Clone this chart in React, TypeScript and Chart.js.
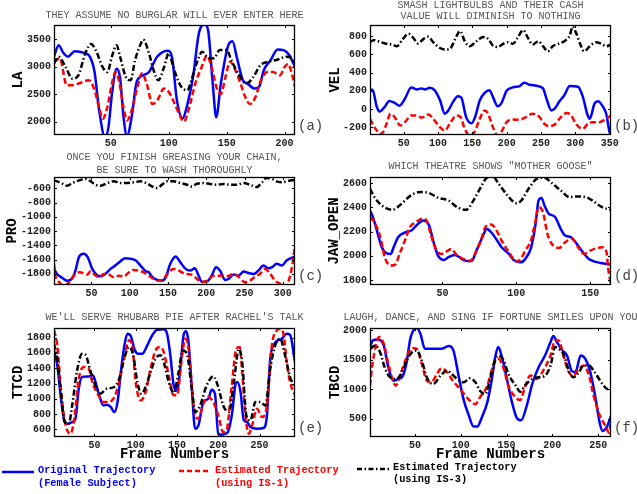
import React, { useEffect, useRef } from "react";
import { Chart, registerables } from "chart.js";

Chart.register(...registerables);

type Pt = [number, number];

// ---------- (a) LA ----------
const laTitle = ["THEY ASSUME NO BURGLAR WILL EVER ENTER HERE"];
const laXTicks = [50, 100, 150, 200];
const laYTicks = [2000, 2500, 3000, 3500];
const laOriginal: Pt[] = [[1,3180],[5,3390],[9,3250],[13,3180],[19,3280],[27,3250],[32,3180],[36,2900],[40,2200],[45,1720],[48,1900],[51,2500],[55,2960],[58,2800],[61,2080],[64,1740],[68,2080],[72,2690],[76,2820],[83,2900],[90,3180],[99,3290],[103,3150],[107,2400],[112,2060],[116,2300],[121,2810],[126,3600],[131,3770],[134,3660],[138,2690],[141,2080],[145,2690],[151,3360],[155,3460],[159,3150],[164,2750],[168,2690],[174,2600],[178,2630],[182,2930],[188,3120],[194,3310],[199,3300],[204,3210],[209,2990]];
const laIS1: Pt[] = [[1,3085],[4,3130],[6,3150],[12,2660],[17,2660],[22,2690],[31,2750],[35,2630],[40,2260],[43,2050],[47,2260],[51,2690],[54,2900],[57,2750],[61,2260],[64,2020],[68,2200],[73,2630],[77,2880],[81,2690],[86,2320],[90,2380],[96,2600],[100,2540],[104,2380],[109,2140],[113,2000],[117,2200],[123,2690],[129,3020],[133,3200],[137,2990],[142,2570],[145,2500],[149,2810],[153,3090],[157,2960],[162,2690],[166,2450],[170,2320],[175,2450],[179,2720],[185,2900],[190,2900],[196,2840],[200,2990],[203,3050],[207,2810],[209,2630]];
const laIS3: Pt[] = [[1,3055],[5,3180],[11,2990],[17,2780],[22,2840],[28,3240],[33,3410],[37,3300],[43,2990],[47,2900],[51,3180],[55,3390],[58,3180],[63,2810],[67,2750],[71,3120],[76,3420],[78,3490],[83,3240],[87,2930],[91,2750],[96,2990],[100,3240],[104,2990],[110,2660],[116,2570],[120,2780],[124,3055],[129,3270],[133,3180],[139,3150],[144,3300],[150,3300],[154,3120],[160,2870],[167,2690],[173,2810],[179,3020],[185,3085],[193,3120],[202,3180],[206,3150],[209,3020]];

// ---------- (b) VEL ----------
const velTitle = ["SMASH LIGHTBULBS AND THEIR CASH", "VALUE WILL DIMINISH TO NOTHING"];
const velXTicks = [50, 100, 150, 200, 250, 300, 350];
const velYTicks = [-200, 0, 200, 400, 600, 800];
const velOriginal: Pt[] = [[1,215],[5,207],[11,22],[15,-26],[23,30],[29,89],[37,67],[44,37],[52,115],[61,237],[69,215],[76,226],[81,215],[88,233],[95,207],[103,96],[110,-52],[115,-15],[122,78],[129,141],[134,126],[141,-89],[149,-155],[154,-89],[161,96],[168,178],[175,207],[180,133],[187,30],[192,59],[200,200],[209,237],[219,252],[226,289],[233,267],[243,256],[253,226],[258,115],[265,-15],[270,4],[277,85],[284,152],[292,252],[304,244],[311,133],[318,-70],[321,-107],[328,59],[333,85],[340,30],[345,-52],[350,-255],[352,-285]];
const velIS1: Pt[] = [[1,-107],[6,-181],[11,-237],[15,-274],[20,-255],[25,-163],[31,-52],[37,-89],[45,-181],[52,-144],[61,-70],[69,-70],[76,-96],[86,-59],[93,-107],[103,-200],[110,-237],[117,-163],[127,-70],[133,-89],[139,-218],[146,-292],[153,-255],[161,-107],[168,-15],[173,-52],[180,-200],[187,-292],[192,-255],[200,-144],[209,-115],[219,-118],[228,-89],[238,-52],[247,-81],[255,-163],[262,-189],[270,-170],[279,-89],[288,-44],[294,-70],[301,-163],[311,-218],[318,-163],[325,-144],[335,-144],[345,-107],[352,-70]];
const velIS3: Pt[] = [[1,733],[6,756],[16,737],[23,719],[33,707],[40,689],[49,770],[57,826],[64,781],[71,719],[79,770],[86,793],[93,733],[103,670],[110,652],[117,659],[127,800],[132,856],[139,744],[146,689],[156,744],[166,789],[173,770],[180,696],[187,681],[195,715],[202,733],[209,715],[216,781],[224,867],[231,781],[238,707],[246,744],[253,689],[260,633],[267,689],[275,715],[284,744],[292,807],[296,904],[301,837],[308,696],[313,633],[321,689],[330,733],[337,719],[345,689],[352,707]];

// ---------- (c) PRO ----------
const proTitle = ["ONCE YOU FINISH GREASING YOUR CHAIN,", "BE SURE TO WASH THOROUGHLY"];
const proXTicks = [50, 100, 150, 200, 250, 300];
const proYTicks = [-1800, -1600, -1400, -1200, -1000, -800, -600];
const proOriginal: Pt[] = [[1,-1730],[5,-1801],[12,-1858],[18,-1895],[25,-1862],[29,-1754],[34,-1555],[40,-1517],[45,-1565],[51,-1730],[58,-1825],[62,-1834],[68,-1801],[75,-1730],[81,-1683],[88,-1621],[94,-1579],[101,-1588],[108,-1612],[114,-1683],[121,-1763],[125,-1777],[129,-1839],[136,-1886],[142,-1896],[147,-1848],[153,-1659],[160,-1555],[166,-1635],[173,-1730],[179,-1754],[185,-1721],[190,-1825],[194,-1910],[201,-1905],[207,-1825],[213,-1706],[218,-1754],[225,-1886],[229,-1872],[236,-1810],[242,-1825],[249,-1768],[255,-1787],[262,-1801],[268,-1754],[275,-1683],[281,-1721],[286,-1706],[292,-1659],[299,-1683],[305,-1612],[312,-1574],[316,-1565]];
const proIS1: Pt[] = [[1,-1659],[3,-1825],[8,-1919],[14,-1966],[21,-1919],[27,-1825],[34,-1777],[40,-1791],[44,-1810],[49,-1763],[53,-1801],[60,-1848],[66,-1801],[73,-1810],[79,-1848],[86,-1825],[92,-1839],[99,-1777],[105,-1744],[112,-1754],[118,-1777],[125,-1825],[131,-1872],[138,-1896],[144,-1872],[151,-1777],[157,-1730],[164,-1754],[173,-1801],[181,-1810],[188,-1872],[194,-1919],[201,-1896],[210,-1825],[218,-1825],[227,-1834],[236,-1801],[242,-1839],[251,-1919],[257,-1896],[264,-1839],[270,-1801],[277,-1730],[283,-1791],[290,-1896],[297,-1943],[303,-1990],[307,-1919],[312,-1706],[316,-1399]];
const proIS3: Pt[] = [[1,-487],[5,-501],[12,-534],[18,-562],[25,-524],[34,-487],[42,-468],[49,-501],[55,-548],[62,-562],[71,-524],[79,-501],[88,-524],[97,-524],[105,-515],[114,-501],[123,-534],[129,-572],[136,-595],[142,-548],[149,-501],[157,-501],[166,-524],[175,-548],[181,-572],[188,-534],[197,-524],[205,-539],[214,-548],[223,-539],[231,-548],[240,-548],[249,-524],[257,-548],[266,-581],[273,-515],[279,-453],[286,-468],[292,-501],[299,-515],[305,-501],[312,-487],[316,-487]];

// ---------- (d) JAW_OPEN ----------
const jawTitle = ["WHICH THEATRE SHOWS \"MOTHER GOOSE\""];
const jawXTicks = [50, 100, 150];
const jawYTicks = [1800, 2000, 2200, 2400, 2600];
const jawOriginal: Pt[] = [[1,2374],[3,2319],[6,2194],[9,2070],[12,2021],[15,2015],[17,2070],[20,2153],[25,2194],[29,2208],[33,2258],[37,2291],[41,2250],[44,2112],[47,2001],[51,1966],[54,1988],[58,2007],[61,1993],[64,1966],[68,1955],[70,1960],[73,2043],[77,2153],[80,2222],[83,2194],[87,2126],[90,2070],[95,2015],[98,1966],[103,1946],[106,1974],[110,2070],[113,2263],[115,2457],[117,2476],[119,2415],[122,2346],[126,2324],[130,2222],[133,2167],[137,2153],[140,2112],[145,2029],[149,1974],[153,1952],[157,1941],[161,1932],[164,1927]];
const jawIS1: Pt[] = [[1,2319],[4,2277],[8,2153],[11,1988],[15,1919],[18,1927],[21,2015],[25,2139],[28,2236],[32,2277],[36,2305],[39,2297],[42,2181],[45,2070],[49,2015],[52,2029],[56,2057],[59,2015],[64,1974],[69,1960],[72,2015],[76,2126],[79,2236],[83,2258],[86,2222],[90,2126],[95,2029],[100,1955],[103,1974],[106,2043],[110,2131],[113,2291],[115,2401],[118,2360],[121,2181],[124,2098],[129,2065],[133,2112],[138,2139],[141,2084],[146,2015],[150,2043],[155,2065],[158,2070],[161,2029],[162,1905],[164,1759]];
const jawIS3: Pt[] = [[1,2553],[4,2484],[9,2415],[16,2379],[21,2415],[28,2492],[35,2526],[41,2517],[47,2479],[54,2457],[60,2401],[66,2379],[71,2457],[76,2567],[80,2644],[84,2655],[88,2594],[94,2498],[100,2434],[103,2451],[109,2567],[114,2636],[119,2644],[124,2600],[130,2539],[136,2484],[141,2490],[147,2484],[153,2443],[158,2401],[164,2379]];

// ---------- (e) TTCD ----------
const ttcdTitle = ["WE'LL SERVE RHUBARB PIE AFTER RACHEL'S TALK"];
const ttcdXTicks = [50, 100, 150, 200, 250];
const ttcdYTicks = [600, 800, 1000, 1200, 1400, 1600, 1800];
const ttcdOriginal: Pt[] = [[1,1634],[5,1438],[9,1045],[13,739],[17,673],[23,695],[27,739],[31,1132],[35,1285],[43,1293],[48,1307],[53,1154],[57,1001],[61,913],[65,922],[70,892],[74,826],[78,957],[82,1350],[86,1678],[90,1852],[94,1822],[99,1634],[103,1590],[108,1590],[114,1700],[120,1831],[126,1905],[134,1909],[138,1852],[142,1569],[146,1176],[150,1110],[154,1394],[158,1831],[161,1883],[164,1743],[168,1132],[172,608],[176,652],[182,957],[188,1001],[192,1119],[196,1066],[200,542],[204,530],[208,540],[212,573],[217,826],[221,1197],[223,1219],[227,1088],[231,717],[235,695],[239,630],[247,608],[255,617],[259,783],[263,1525],[269,1734],[277,1787],[283,1852],[287,1839],[293,1481]];
const ttcdIS1: Pt[] = [[1,1896],[5,1700],[9,1176],[13,783],[17,586],[21,542],[25,695],[31,1263],[37,1416],[43,1394],[48,1197],[55,1045],[61,957],[67,957],[73,1001],[79,1176],[86,1525],[92,1765],[96,1678],[100,1219],[106,979],[112,1088],[118,1394],[124,1634],[129,1678],[134,1612],[140,1307],[146,1045],[150,1045],[156,1547],[160,1787],[164,1656],[168,1176],[172,783],[176,739],[182,935],[188,1023],[194,957],[200,783],[206,564],[210,586],[216,1132],[222,1656],[226,1678],[229,1350],[233,783],[237,542],[241,652],[247,870],[253,761],[259,913],[265,1700],[271,1896],[275,1918],[279,1852],[283,1481],[287,1219],[293,1045]];
const ttcdIS3: Pt[] = [[1,1721],[5,1525],[9,1132],[14,695],[19,673],[23,913],[29,1372],[35,1590],[39,1577],[45,1372],[51,1176],[57,1066],[65,1132],[74,1154],[80,1263],[86,1525],[92,1678],[97,1569],[102,1219],[107,1066],[112,1154],[118,1350],[124,1525],[130,1569],[134,1481],[140,1219],[146,1079],[152,1350],[157,1634],[162,1590],[168,1132],[172,826],[178,913],[186,1176],[194,1293],[200,1154],[206,913],[213,826],[219,1219],[225,1656],[229,1481],[234,783],[239,717],[245,957],[251,957],[257,913],[263,1394],[269,1700],[275,1787],[281,1569],[287,1285],[293,1154]];

// ---------- (f) TBCD ----------
const tbcdTitle = ["LAUGH, DANCE, AND SING IF FORTUNE SMILES UPON YOU"];
const tbcdXTicks = [50, 100, 150, 200, 250];
const tbcdYTicks = [500, 1000, 1500, 2000];
const tbcdOriginal: Pt[] = [[1,1715],[4,1829],[10,1846],[16,1743],[21,1373],[27,1144],[32,1173],[37,1230],[41,1458],[45,1857],[52,2040],[56,1943],[61,1686],[70,1686],[79,1686],[87,1732],[92,1658],[98,1201],[103,831],[109,545],[114,363],[118,363],[123,517],[129,774],[134,1173],[138,1572],[141,1715],[145,1544],[150,1201],[156,774],[161,517],[166,471],[172,717],[178,1087],[185,1373],[192,1572],[198,1800],[201,1903],[205,1800],[211,1658],[216,1572],[221,1315],[225,1287],[231,1572],[236,1515],[241,1315],[247,859],[252,403],[255,289],[260,374],[264,545]];
const tbcdIS1: Pt[] = [[1,1059],[4,1458],[8,1772],[11,1886],[16,1772],[21,1430],[26,1144],[29,1059],[35,1287],[41,1544],[47,1698],[52,1686],[58,1401],[63,1144],[68,1116],[74,1258],[79,1355],[85,1287],[90,1173],[96,1059],[103,933],[110,802],[116,745],[121,859],[129,1059],[136,1430],[141,1515],[147,1344],[152,1059],[160,859],[165,813],[170,1030],[176,1230],[183,1173],[190,1315],[198,1572],[203,1829],[207,1829],[212,1572],[218,1287],[223,1230],[229,1344],[234,1401],[240,1230],[245,888],[252,545],[258,374],[262,260],[264,460]];
const tbcdIS3: Pt[] = [[1,1686],[7,1743],[12,1629],[17,1373],[23,1201],[30,1173],[36,1287],[41,1487],[47,1629],[52,1658],[58,1458],[63,1201],[70,1087],[78,1230],[85,1315],[90,1258],[96,1173],[103,1116],[110,1184],[116,1116],[121,973],[127,916],[132,1173],[138,1515],[141,1572],[147,1487],[152,1258],[160,1059],[165,956],[170,1059],[178,1173],[185,1201],[192,1230],[198,1401],[203,1715],[207,1686],[212,1601],[218,1315],[223,1201],[229,1287],[234,1401],[240,1401],[245,1315],[251,1173],[256,1059],[260,1002],[264,1030]];

const legendLabels = [
  ["Original Trajectory", "(Female Subject)"],
  ["Estimated Trajectory", "(using IS-1)"],
  ["Estimated Trajectory", "(using IS-3)"],
];

// ---------- layout ----------
const MONO = "'Liberation Mono', 'Courier New', monospace";
const COLS = [
  { canvasLeft: 0, canvasWidth: 330, plotLeft: 54, plotRight: 295 },
  { canvasLeft: 317, canvasWidth: 320, plotLeft: 370, plotRight: 611 },
];
const ROWS = [
  { top: 25, bottom: 135 },
  { top: 177, bottom: 285 },
  { top: 328, bottom: 437 },
];
const Y_AXIS_W = 40;
const X_AXIS_H = 20;
const TOP_SPACE = 30;
const BOTTOM_SPACE = 45;

interface Panel {
  key: string;
  col: number;
  row: number;
  xMin: number; xMax: number; yMin: number; yMax: number;
  xTicks: number[]; yTicks: number[];
  title: string[]; titleOffsets: number[];
  yTitle: string; yTitleOffset: number;
  label: string;
  xTitle?: string;
  orig: Pt[]; is1: Pt[]; is3: Pt[];
}

const PANELS: Panel[] = [
  { key: "a", col: 0, row: 0, xMin: 1, xMax: 209, yMin: 1756, yMax: 3756, xTicks: laXTicks, yTicks: laYTicks, title: laTitle, titleOffsets: [10], yTitle: "LA", yTitleOffset: 36, label: "(a)", orig: laOriginal, is1: laIS1, is3: laIS3 },
  { key: "b", col: 1, row: 0, xMin: 1, xMax: 352, yMin: -285, yMax: 922, xTicks: velXTicks, yTicks: velYTicks, title: velTitle, titleOffsets: [20, 8.5], yTitle: "VEL", yTitleOffset: 35, label: "(b)", orig: velOriginal, is1: velIS1, is3: velIS3 },
  { key: "c", col: 0, row: 1, xMin: 1, xMax: 316, yMin: -1956, yMax: -440, xTicks: proXTicks, yTicks: proYTicks, title: proTitle, titleOffsets: [20, 6.5], yTitle: "PRO", yTitleOffset: 42, label: "(c)", orig: proOriginal, is1: proIS1, is3: proIS3 },
  { key: "d", col: 1, row: 1, xMin: 1, xMax: 164, yMin: 1759, yMax: 2650, xTicks: jawXTicks, yTicks: jawYTicks, title: jawTitle, titleOffsets: [11], yTitle: "JAW_OPEN", yTitleOffset: 36, label: "(d)", orig: jawOriginal, is1: jawIS1, is3: jawIS3 },
  { key: "e", col: 0, row: 2, xMin: 1, xMax: 293, yMin: 500, yMax: 1927, xTicks: ttcdXTicks, yTicks: ttcdYTicks, title: ttcdTitle, titleOffsets: [10.5], yTitle: "TTCD", yTitleOffset: 36, label: "(e)", xTitle: "Frame Numbers", orig: ttcdOriginal, is1: ttcdIS1, is3: ttcdIS3 },
  { key: "f", col: 1, row: 2, xMin: 1, xMax: 264, yMin: 186, yMax: 2040, xTicks: tbcdXTicks, yTicks: tbcdYTicks, title: tbcdTitle, titleOffsets: [10.5], yTitle: "TBCD", yTitleOffset: 35, label: "(f)", xTitle: "Frame Numbers", orig: tbcdOriginal, is1: tbcdIS1, is3: tbcdIS3 },
];

function geometry(p: Panel) {
  const c = COLS[p.col];
  const r = ROWS[p.row];
  const left = c.canvasLeft;
  const top = r.top - TOP_SPACE;
  const width = c.canvasWidth;
  const height = r.bottom - r.top + TOP_SPACE + BOTTOM_SPACE;
  const pad = {
    left: c.plotLeft - c.canvasLeft - Y_AXIS_W,
    right: c.canvasLeft + c.canvasWidth - c.plotRight,
    top: TOP_SPACE,
    bottom: BOTTOM_SPACE - X_AXIS_H,
  };
  return { left, top, width, height, pad };
}

function decorPlugin(p: Panel) {
  return {
    id: "decor_" + p.key,
    afterDraw(chart: any) {
      const { ctx, chartArea: a, scales } = chart;
      const xs = scales.x;
      const ys = scales.y;
      ctx.save();
      ctx.strokeStyle = "#000";
      ctx.lineWidth = 1;
      ctx.beginPath();
      for (const v of p.xTicks) {
        const px = Math.round(xs.getPixelForValue(v)) + 0.5;
        ctx.moveTo(px, a.bottom);
        ctx.lineTo(px, a.bottom - 3);
        ctx.moveTo(px, a.top);
        ctx.lineTo(px, a.top + 3);
      }
      for (const v of p.yTicks) {
        const py = Math.round(ys.getPixelForValue(v)) + 0.5;
        ctx.moveTo(a.left, py);
        ctx.lineTo(a.left + 3, py);
        ctx.moveTo(a.right, py);
        ctx.lineTo(a.right - 3, py);
      }
      ctx.stroke();
      ctx.lineWidth = 1.3;
      ctx.strokeRect(a.left + 0.5, a.top + 0.5, a.right - a.left - 1, a.bottom - a.top - 1);

      const cx = (a.left + a.right) / 2;
      ctx.fillStyle = "#555";
      ctx.font = "10px " + MONO;
      ctx.textAlign = "center";
      ctx.textBaseline = "middle";
      p.title.forEach((t, i) => ctx.fillText(t, cx, a.top - p.titleOffsets[i]));

      ctx.fillStyle = "#444";
      ctx.font = "14px " + MONO;
      ctx.textAlign = "left";
      ctx.fillText(p.label, a.right + 3, a.bottom - 8.5);

      ctx.save();
      ctx.translate(a.left - p.yTitleOffset, (a.top + a.bottom) / 2);
      ctx.rotate(-Math.PI / 2);
      ctx.fillStyle = "#000";
      ctx.font = "bold 14px " + MONO;
      ctx.textAlign = "center";
      ctx.fillText(p.yTitle, 0, 0);
      ctx.restore();

      if (p.xTitle) {
        ctx.fillStyle = "#000";
        ctx.font = "bold 14px " + MONO;
        ctx.textAlign = "center";
        ctx.fillText(p.xTitle, cx, a.bottom + 17);
      }
      ctx.restore();
    },
  };
}

const toXY = (pts: Pt[]) => pts.map(([x, y]) => ({ x, y }));

function PanelChart({ p }: { p: Panel }) {
  const ref = useRef<HTMLCanvasElement>(null);
  const g = geometry(p);
  useEffect(() => {
    const tickFont = { family: MONO, size: 10, weight: "bold" as const };
    const chart = new Chart(ref.current as HTMLCanvasElement, {
      type: "line",
      data: {
        datasets: [
          { data: toXY(p.is3), borderColor: "#000000", borderWidth: 2.5, borderDash: [6, 2.5, 1.5, 2.5], pointRadius: 0, fill: false, clip: 0 } as any,
          { data: toXY(p.is1), borderColor: "#ff0000", borderWidth: 2.5, borderDash: [6, 3], pointRadius: 0, fill: false, clip: 0 } as any,
          { data: toXY(p.orig), borderColor: "#0000ff", borderWidth: 2.5, pointRadius: 0, fill: false, clip: 0 } as any,
        ],
      },
      options: {
        responsive: false,
        animation: false,
        devicePixelRatio: 1,
        layout: { padding: g.pad },
        elements: { line: { cubicInterpolationMode: "monotone" }, point: { radius: 0 } },
        plugins: { legend: { display: false }, tooltip: { enabled: false }, title: { display: false } },
        scales: {
          x: {
            type: "linear",
            min: p.xMin,
            max: p.xMax,
            grid: { display: false, drawTicks: false },
            border: { display: false },
            afterBuildTicks: (s: any) => { s.ticks = p.xTicks.map((v) => ({ value: v })); },
            afterFit: (s: any) => { s.height = X_AXIS_H; },
            ticks: { autoSkip: false, maxRotation: 0, minRotation: 0, padding: 2, font: tickFont, color: "#222", callback: (v: any) => String(v) },
          },
          y: {
            type: "linear",
            min: p.yMin,
            max: p.yMax,
            grid: { display: false, drawTicks: false },
            border: { display: false },
            afterBuildTicks: (s: any) => { s.ticks = p.yTicks.map((v) => ({ value: v })); },
            afterFit: (s: any) => { s.width = Y_AXIS_W; },
            ticks: { autoSkip: false, padding: 3, font: tickFont, color: "#222", callback: (v: any) => String(v) },
          },
        },
      } as any,
      plugins: [decorPlugin(p)],
    });
    return () => chart.destroy();
  }, []);
  return (
    <canvas
      ref={ref}
      width={g.width}
      height={g.height}
      style={{ position: "absolute", left: g.left, top: g.top, width: g.width, height: g.height }}
    />
  );
}

const legendText: React.CSSProperties = {
  position: "absolute",
  font: "bold 10.3px " + MONO,
  whiteSpace: "pre",
  lineHeight: "13px",
};

export default function App() {
  return (
    <div style={{ position: "absolute", left: 0, top: 0, width: 637, height: 494, background: "#fff", overflow: "hidden" }}>
      {PANELS.map((p) => (
        <PanelChart key={p.key} p={p} />
      ))}
      <svg width={637} height={494} style={{ position: "absolute", left: 0, top: 0, pointerEvents: "none" }}>
        <line x1={2} y1={472} x2={34} y2={472} stroke="#0000ff" strokeWidth={2.5} />
        <line x1={179} y1={471} x2={211} y2={471} stroke="#ff0000" strokeWidth={2.5} strokeDasharray="5 3" />
        <line x1={357} y1={469} x2={389} y2={469} stroke="#000" strokeWidth={2.5} strokeDasharray="5 2.5 1.5 2.5" />
      </svg>
      <div style={{ ...legendText, left: 38, top: 463.5, color: "#0000ff" }}>{legendLabels[0][0]}</div>
      <div style={{ ...legendText, left: 38, top: 476.5, color: "#0000ff" }}>{legendLabels[0][1]}</div>
      <div style={{ ...legendText, left: 215, top: 463.5, color: "#ff0000" }}>{legendLabels[1][0]}</div>
      <div style={{ ...legendText, left: 215, top: 476.5, color: "#ff0000" }}>{legendLabels[1][1]}</div>
      <div style={{ ...legendText, left: 393, top: 460.5, color: "#000" }}>{legendLabels[2][0]}</div>
      <div style={{ ...legendText, left: 393, top: 472.5, color: "#000" }}>{legendLabels[2][1]}</div>
    </div>
  );
}
